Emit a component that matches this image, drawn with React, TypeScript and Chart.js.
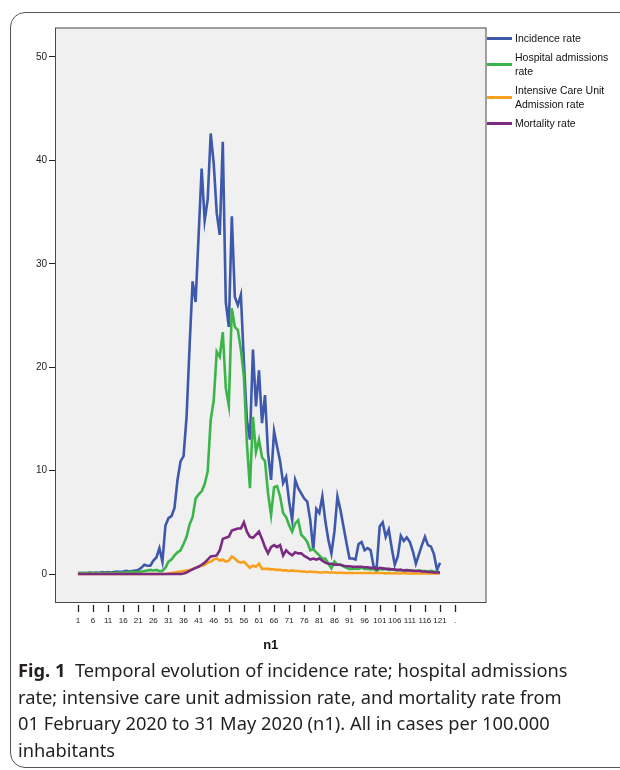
import React, { useEffect, useRef } from "react";
import { Chart, registerables } from "chart.js";

Chart.register(...registerables);

const days = [
  1, 2, 3, 4, 5, 6, 7, 8, 9, 10, 11, 12, 13, 14, 15, 16, 17, 18, 19, 20,
  21, 22, 23, 24, 25, 26, 27, 28, 29, 30, 31, 32, 33, 34, 35, 36, 37, 38, 39, 40,
  41, 42, 43, 44, 45, 46, 47, 48, 49, 50, 51, 52, 53, 54, 55, 56, 57, 58, 59, 60,
  61, 62, 63, 64, 65, 66, 67, 68, 69, 70, 71, 72, 73, 74, 75, 76, 77, 78, 79, 80,
  81, 82, 83, 84, 85, 86, 87, 88, 89, 90, 91, 92, 93, 94, 95, 96, 97, 98, 99, 100,
  101, 102, 103, 104, 105, 106, 107, 108, 109, 110, 111, 112, 113, 114, 115, 116, 117, 118, 119, 120,
  121,
];

const incidence = [
  0.1, 0.1, 0.1, 0.1, 0.15, 0.1, 0.15, 0.1, 0.2, 0.15,
  0.2, 0.15, 0.2, 0.25, 0.2, 0.25, 0.3, 0.25, 0.3, 0.35,
  0.4, 0.6, 0.9, 0.8, 0.8, 1.3, 1.6, 2.5, 1.2, 4.7,
  5.4, 5.6, 6.4, 9.1, 10.9, 11.4, 15.2, 22.0, 28.3, 26.3,
  32.8, 39.2, 34.2, 36.2, 42.6, 39.7, 34.9, 32.8, 41.8, 26.3,
  23.9, 34.6, 26.8, 26.0, 27.0, 20.5, 14.9, 13.0, 21.7, 16.2,
  19.7, 14.6, 17.3, 11.7, 9.1, 13.8, 12.3, 10.9, 8.8, 9.4,
  7.0, 5.2, 9.1, 8.3, 7.8, 7.3, 7.0, 5.2, 2.3, 6.3,
  5.9, 7.5, 5.1, 3.3, 2.0, 4.1, 7.5, 6.2, 4.6, 3.0,
  1.5, 1.5, 1.4, 2.9, 3.1, 2.3, 2.5, 2.3, 0.7, 0.6,
  4.6, 5.0, 3.6, 4.3, 2.5, 0.9, 1.7, 3.7, 3.2, 3.55,
  3.1, 2.2, 1.0, 1.9, 2.8, 3.6, 2.8, 2.65, 1.9, 0.4,
  1.1,
];

const hospital = [
  0.1, 0.1, 0.1, 0.1, 0.1, 0.1, 0.1, 0.1, 0.1, 0.1,
  0.1, 0.1, 0.1, 0.15, 0.1, 0.15, 0.15, 0.2, 0.2, 0.2,
  0.2, 0.25, 0.3, 0.35, 0.4, 0.35, 0.4, 0.3, 0.3, 0.6,
  1.2, 1.4, 1.8, 2.1, 2.3, 2.9, 3.6, 4.8, 5.5, 7.3,
  7.7, 8.0, 8.7, 9.9, 14.9, 16.8, 21.5, 21.0, 23.4, 18.0,
  16.3, 25.7, 23.9, 23.6, 21.7, 19.1, 12.6, 8.3, 15.2, 11.8,
  13.0, 11.3, 10.9, 7.8, 5.7, 8.4, 8.5, 7.5, 5.9, 5.5,
  4.7, 4.1, 4.9, 5.2, 3.8, 3.5, 3.1, 2.3, 2.4, 2.1,
  1.8, 1.5, 1.5, 1.0, 0.55, 1.2, 0.9, 0.9, 0.75, 0.6,
  0.5, 0.5, 0.55, 0.5, 0.6, 0.5, 0.5, 0.45, 0.5, 0.3,
  0.5, 0.45, 0.5, 0.4, 0.45, 0.4, 0.35, 0.4, 0.35, 0.4,
  0.3, 0.35, 0.3, 0.35, 0.3, 0.3, 0.25, 0.3, 0.25, 0.2,
  0.2,
];

const icu = [
  0, 0, 0, 0, 0, 0, 0, 0, 0, 0,
  0, 0, 0, 0, 0, 0, 0, 0, 0, 0,
  0, 0, 0, 0, 0, 0, 0, 0, 0, 0,
  0.05, 0.1, 0.15, 0.2, 0.25, 0.3, 0.35, 0.4, 0.5, 0.6,
  0.75, 0.8, 0.9, 1.1, 1.2, 1.4, 1.5, 1.3, 1.4, 1.2,
  1.3, 1.7, 1.5, 1.2, 1.1, 1.2, 0.9, 0.6, 0.8, 0.7,
  1.0, 0.5, 0.5, 0.5, 0.45, 0.45, 0.4, 0.4, 0.35, 0.35,
  0.3, 0.35, 0.3, 0.3, 0.25, 0.25, 0.2, 0.25, 0.2, 0.2,
  0.15, 0.15, 0.2, 0.15, 0.15, 0.15, 0.1, 0.15, 0.1, 0.1,
  0.1, 0.1, 0.1, 0.1, 0.1, 0.1, 0.1, 0.1, 0.1, 0.1,
  0.1, 0.1, 0.05, 0.1, 0.05, 0.1, 0.05, 0.05, 0.1, 0.05,
  0.05, 0.05, 0.05, 0.05, 0.05, 0.05, 0.05, 0.05, 0.05, 0.05,
  0.05,
];

const mortality = [
  0, 0, 0, 0, 0, 0, 0, 0, 0, 0,
  0, 0, 0, 0, 0, 0, 0, 0, 0, 0,
  0, 0, 0, 0, 0, 0, 0, 0, 0, 0,
  0, 0, 0, 0, 0, 0.05, 0.15, 0.3, 0.45, 0.6,
  0.7, 0.9, 1.1, 1.4, 1.7, 1.75, 1.8, 2.3, 3.4, 3.5,
  3.6, 4.2, 4.3, 4.4, 4.4, 5.0, 4.1, 3.6, 3.5, 3.8,
  4.1, 3.4, 2.6, 2.0, 2.6, 2.8, 2.6, 2.8, 1.8, 2.3,
  2.0, 1.8, 2.1, 2.0, 2.0, 1.75, 1.6, 1.4, 1.5, 1.4,
  1.5, 1.3, 1.1, 1.0, 1.0, 0.9, 0.9, 0.9, 0.8, 0.75,
  0.75, 0.7, 0.7, 0.7, 0.7, 0.65, 0.65, 0.6, 0.6, 0.45,
  0.6, 0.55, 0.5, 0.5, 0.45, 0.45, 0.4, 0.4, 0.35, 0.35,
  0.35, 0.3, 0.3, 0.3, 0.25, 0.25, 0.2, 0.2, 0.15, 0.15,
  0.15,
];

const seriesLabels = [
  "Incidence rate",
  "Hospital admissions\nrate",
  "Intensive Care Unit\nAdmission rate",
  "Mortality rate",
];
const seriesColors = ["#3E58AC", "#3BB54A", "#F8A01E", "#7B2B82"];

const xTickValues = [1, 6, 11, 16, 21, 26, 31, 36, 41, 46, 51, 56, 61, 66, 71, 76, 81, 86, 91, 96, 101, 106, 111, 116, 121, 126];
const xTickLabels = ["1", "6", "11", "16", "21", "26", "31", "36", "41", "46", "51", "56", "61", "66", "71", "76", "81", "86", "91", "96", "101", "106", "111", "116", "121", "."];
const yTickValues = [0, 10, 20, 30, 40, 50];
const xTitle = "n1";

const AXIS_FONT = "'Liberation Sans', Arial, sans-serif";

const framePlugin = {
  id: "spssFrame",
  beforeDraw(chart: any) {
    const { ctx, chartArea: a } = chart;
    ctx.save();
    ctx.fillStyle = "#F0F0F0";
    ctx.fillRect(a.left, a.top, a.right - a.left, a.bottom - a.top);
    ctx.restore();
  },
  afterDraw(chart: any) {
    const { ctx, chartArea: a, scales } = chart;
    ctx.save();
    ctx.strokeStyle = "#4a4a4a";
    ctx.lineWidth = 1;
    ctx.strokeRect(a.left + 0.5, a.top + 0.5, a.right - a.left - 1, a.bottom - a.top - 1);
    ctx.strokeStyle = "#222";
    ctx.lineWidth = 1.3;
    for (const v of xTickValues) {
      const x = Math.round(scales.x.getPixelForValue(v)) + 0.5;
      ctx.beginPath();
      ctx.moveTo(x, a.bottom + 2);
      ctx.lineTo(x, a.bottom + 9);
      ctx.stroke();
    }
    ctx.restore();
  },
};

function makeSeries(values: number[]) {
  return values.map((v, i) => ({ x: days[i], y: v }));
}

export default function App() {
  const canvasRef = useRef<HTMLCanvasElement | null>(null);

  useEffect(() => {
    const canvas = canvasRef.current;
    if (!canvas) return;
    const allSeries = [incidence, hospital, icu, mortality];
    const chart = new Chart(canvas, {
      type: "line",
      data: {
        datasets: allSeries.map((vals, i) => ({
          label: seriesLabels[i].replace("\n", " "),
          data: makeSeries(vals),
          borderColor: seriesColors[i],
          backgroundColor: seriesColors[i],
          borderWidth: 2.6,
          pointRadius: 0,
          tension: 0,
          fill: false,
          order: 4 - i,
        })),
      },
      options: {
        responsive: false,
        animation: false,
        events: [],
        layout: { padding: { left: 0, top: 27.5, right: 133.5, bottom: 0 } },
        plugins: {
          legend: { display: false },
          tooltip: { enabled: false },
        },
        scales: {
          x: {
            type: "linear",
            min: -6.6,
            max: 136.4,
            afterBuildTicks: (scale: any) => {
              scale.ticks = xTickValues.map((v) => ({ value: v }));
            },
            afterFit: (scale: any) => {
              scale.height = 57;
            },
            grid: {
              display: true,
              drawOnChartArea: false,
              drawTicks: true,
              tickLength: 10,
              color: "rgba(0,0,0,0)",
            },
            border: { display: false },
            ticks: {
              autoSkip: false,
              maxRotation: 0,
              minRotation: 0,
              padding: 3,
              color: "#222",
              font: { family: AXIS_FONT, size: 8 },
              callback: (value: any) => {
                const idx = xTickValues.indexOf(Number(value));
                return idx >= 0 ? xTickLabels[idx] : "";
              },
            },
            title: {
              display: true,
              text: xTitle,
              color: "#111",
              font: { family: AXIS_FONT, size: 13, weight: "bold" },
              padding: { top: 0, bottom: 7 },
            },
          },
          y: {
            type: "linear",
            min: -2.8,
            max: 52.85,
            afterBuildTicks: (scale: any) => {
              scale.ticks = yTickValues.map((v) => ({ value: v }));
            },
            afterFit: (scale: any) => {
              scale.width = 55;
            },
            grid: {
              display: true,
              drawOnChartArea: false,
              drawTicks: true,
              tickLength: 6,
              color: "#222",
              lineWidth: 1,
            },
            border: { display: false },
            ticks: {
              padding: 2,
              color: "#222",
              font: { family: AXIS_FONT, size: 10 },
            },
          },
        },
      },
      plugins: [framePlugin],
    });
    return () => chart.destroy();
  }, []);

  return (
    <div
      style={{
        position: "absolute",
        left: 0,
        top: 0,
        width: 620,
        height: 770,
        overflow: "hidden",
        background: "#fff",
      }}
    >
      <div
        style={{
          position: "absolute",
          left: 10,
          top: 12,
          width: 700,
          height: 756,
          border: "1.3px solid #555",
          borderRadius: 15,
          boxSizing: "border-box",
        }}
      />
      <canvas
        ref={canvasRef}
        width={620}
        height={660}
        style={{ position: "absolute", left: 0, top: 0, width: 620, height: 660 }}
      />
      <div
        style={{
          position: "absolute",
          left: 487,
          top: 31,
          display: "flex",
          flexDirection: "column",
          gap: 5,
          fontFamily: AXIS_FONT,
          fontSize: 10.5,
          lineHeight: "14px",
          color: "#111",
        }}
      >
        {seriesLabels.map((lab, i) => (
          <div key={i} style={{ display: "flex", alignItems: "center" }}>
            <span
              style={{
                display: "inline-block",
                width: 25,
                height: 3,
                background: seriesColors[i],
              }}
            />
            <span style={{ marginLeft: 3, whiteSpace: "pre-line" }}>{lab}</span>
          </div>
        ))}
      </div>
      <div
        style={{
          position: "absolute",
          left: 18,
          top: 657,
          fontFamily: "'Noto Sans', sans-serif",
          fontSize: 18.3,
          lineHeight: "26.5px",
          color: "#231f20",
          whiteSpace: "nowrap",
        }}
      >
        <b>Fig. 1</b>&nbsp;&nbsp;Temporal evolution of incidence rate; hospital admissions
        <br />
        rate; intensive care unit admission rate, and mortality rate from
        <br />
        01 February 2020 to 31 May 2020 (n1). All in cases per 100.000
        <br />
        inhabitants
      </div>
    </div>
  );
}
